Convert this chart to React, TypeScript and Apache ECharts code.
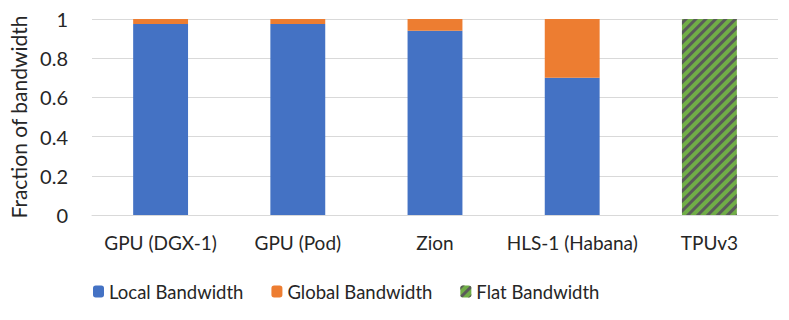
import React, { useEffect, useRef } from "react";
import * as echarts from "echarts";

const categories = ["GPU (DGX-1)", "GPU (Pod)", "Zion", "HLS-1 (Habana)", "TPUv3"];
const localBandwidth: (number | string)[] = [0.975, 0.975, 0.94, 0.7, "-"];
const globalBandwidth: (number | string)[] = [0.025, 0.025, 0.06, 0.3, "-"];
const flatBandwidth: (number | string)[] = ["-", "-", "-", "-", 1];
const yTicks = [0, 0.2, 0.4, 0.6, 0.8, 1];

const FONT = "Lato";

export default function App() {
  const ref = useRef<HTMLDivElement>(null);
  useEffect(() => {
    if (!ref.current) return;
    const chart = echarts.init(ref.current, undefined, { renderer: "svg" });
    chart.setOption({
      animation: false,
      textStyle: { fontFamily: FONT },
      grid: { left: 85, right: 11, top: 19, bottom: 105 },
      legend: {
        bottom: 14,
        left: 88,
        itemWidth: 11,
        itemHeight: 12,
        itemGap: 28,
        textStyle: { fontFamily: FONT, fontSize: 18.5, color: "#262626", padding: [0, 0, 0, 0] },
        data: ["Local Bandwidth", "Global Bandwidth", "Flat Bandwidth"],
      },
      xAxis: {
        type: "category",
        data: categories,
        axisTick: { show: false },
        axisLine: { lineStyle: { color: "#d9d9d9", width: 1 } },
        axisLabel: { fontFamily: FONT, fontSize: 19, color: "#262626", margin: 18, interval: 0 },
      },
      yAxis: {
        type: "value",
        min: 0,
        max: 1,
        interval: 0.2,
        name: "Fraction of bandwidth",
        nameLocation: "middle",
        nameGap: 63,
        nameTextStyle: { fontFamily: FONT, fontSize: 21, color: "#262626" },
        axisLabel: {
          fontFamily: FONT,
          fontSize: 20,
          color: "#262626",
          margin: 24,
          formatter: (v: number) => (yTicks.includes(Math.round(v * 10) / 10) ? String(Math.round(v * 10) / 10) : ""),
        },
        splitLine: { lineStyle: { color: "#d9d9d9", width: 1 } },
      },
      series: [
        {
          name: "Local Bandwidth",
          type: "bar",
          stack: "total",
          barWidth: "40%",
          data: localBandwidth,
          itemStyle: { color: "#4472C4" },
        },
        {
          name: "Global Bandwidth",
          type: "bar",
          stack: "total",
          barWidth: "40%",
          data: globalBandwidth,
          itemStyle: { color: "#ED7D31" },
        },
        {
          name: "Flat Bandwidth",
          type: "bar",
          stack: "total",
          barWidth: "40%",
          data: flatBandwidth,
          itemStyle: {
            color: "#70AD47",
            decal: {
              symbol: "rect",
              color: "#5a5a5a",
              dashArrayX: [1, 0],
              dashArrayY: [3, 4],
              rotation: -Math.PI / 4,
            },
          },
        },
      ],
    });
    return () => chart.dispose();
  }, []);
  return <div ref={ref} style={{ width: 789, height: 320, position: "absolute", left: 0, top: 0 }} />;
}
